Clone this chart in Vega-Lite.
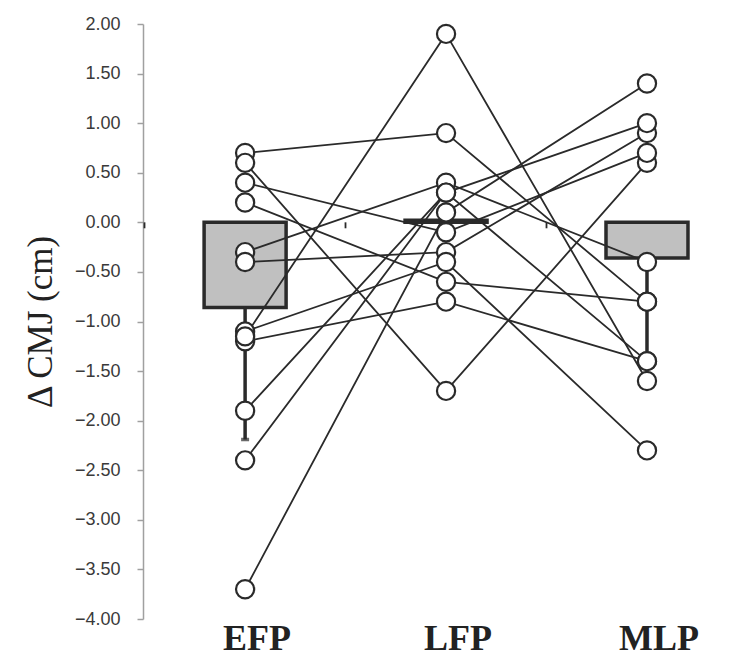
{
  "$schema": "https://vega.github.io/schema/vega-lite/v6.json",
  "width": 596,
  "height": 595,
  "autosize": {"type": "none"},
  "padding": {"left": 143, "top": 24, "right": 0, "bottom": 41},
  "background": "white",
  "config": {
    "view": {"stroke": null},
    "axisY": {
      "grid": false,
      "values": [-4, -3.5, -3, -2.5, -2, -1.5, -1, -0.5, 0, 0.5, 1, 1.5, 2],
      "format": ".2f",
      "labelFont": "Liberation Sans",
      "labelFontSize": 18,
      "labelColor": "#3a3a3a",
      "labelPadding": 17,
      "tickSize": 6,
      "tickColor": "#a0a0a0",
      "tickWidth": 1.5,
      "domainColor": "#a0a0a0",
      "domainWidth": 1.5,
      "titleFont": "Liberation Serif",
      "titleFontSize": 35,
      "titleFontWeight": "normal",
      "titleColor": "#222222",
      "titlePadding": 16
    }
  },
  "datasets": {
    "subjects": [
      {"subject": 1, "cond": "EFP", "value": 0.7}, {"subject": 1, "cond": "LFP", "value": 0.9}, {"subject": 1, "cond": "MLP", "value": -0.8},
      {"subject": 2, "cond": "EFP", "value": 0.6}, {"subject": 2, "cond": "LFP", "value": -1.7}, {"subject": 2, "cond": "MLP", "value": 0.6},
      {"subject": 3, "cond": "EFP", "value": 0.4}, {"subject": 3, "cond": "LFP", "value": -0.1}, {"subject": 3, "cond": "MLP", "value": 0.7},
      {"subject": 4, "cond": "EFP", "value": 0.2}, {"subject": 4, "cond": "LFP", "value": -0.6}, {"subject": 4, "cond": "MLP", "value": -0.8},
      {"subject": 5, "cond": "EFP", "value": -0.3}, {"subject": 5, "cond": "LFP", "value": 0.4}, {"subject": 5, "cond": "MLP", "value": -0.4},
      {"subject": 6, "cond": "EFP", "value": -0.4}, {"subject": 6, "cond": "LFP", "value": -0.3}, {"subject": 6, "cond": "MLP", "value": 0.9},
      {"subject": 7, "cond": "EFP", "value": -1.1}, {"subject": 7, "cond": "LFP", "value": -0.4}, {"subject": 7, "cond": "MLP", "value": -2.3},
      {"subject": 8, "cond": "EFP", "value": -1.2}, {"subject": 8, "cond": "LFP", "value": -0.8}, {"subject": 8, "cond": "MLP", "value": -1.4},
      {"subject": 9, "cond": "EFP", "value": -1.15}, {"subject": 9, "cond": "LFP", "value": 1.9}, {"subject": 9, "cond": "MLP", "value": -1.6},
      {"subject": 10, "cond": "EFP", "value": -1.9}, {"subject": 10, "cond": "LFP", "value": 0.3}, {"subject": 10, "cond": "MLP", "value": 1.0},
      {"subject": 11, "cond": "EFP", "value": -2.4}, {"subject": 11, "cond": "LFP", "value": 0.3}, {"subject": 11, "cond": "MLP", "value": -1.4},
      {"subject": 12, "cond": "EFP", "value": -3.7}, {"subject": 12, "cond": "LFP", "value": 0.1}, {"subject": 12, "cond": "MLP", "value": 1.4}
    ],
    "means": [
      {"cond": "EFP", "mean": -0.86, "low": -2.19},
      {"cond": "LFP", "mean": 0.02, "low": 0.02},
      {"cond": "MLP", "mean": -0.36, "low": -1.3}
    ],
    "bounds": [
      {"b": -0.5}, {"b": 0.5}, {"b": 1.5}, {"b": 2.5}
    ]
  },
  "resolve": {"scale": {"x": "independent"}},
  "layer": [
    {
      "encoding": {
        "x": {"field": "cond", "type": "nominal",
          "scale": {"domain": ["EFP", "LFP", "MLP"], "paddingInner": 0.592, "paddingOuter": 0.279, "align": 0.545},
          "axis": {
            "title": null, "ticks": false, "domain": false,
            "labelFont": "Liberation Serif", "labelFontSize": 36, "labelFontWeight": "bold",
            "labelColor": "#222222", "labelPadding": 2, "labelAngle": 0, "labelOffset": 12
          }
        }
      },
      "layer": [
        {
          "data": {"name": "means"},
          "mark": {"type": "bar", "fill": "#c0c0c0", "stroke": "#2a2a2a", "strokeWidth": 3.5},
          "encoding": {
            "y": {"field": "mean", "type": "quantitative", "scale": {"domain": [-4, 2], "nice": false, "zero": false}, "title": "Δ CMJ (cm)"},
            "y2": {"datum": 0}
          }
        },
        {
          "data": {"name": "means"},
          "mark": {"type": "rule", "stroke": "#2a2a2a", "strokeWidth": 3.5},
          "encoding": {
            "y": {"field": "mean", "type": "quantitative"},
            "y2": {"field": "low"}
          }
        },
        {
          "data": {"name": "means"},
          "transform": [{"filter": "datum.cond === 'EFP'"}],
          "mark": {"type": "tick", "color": "#2a2a2a", "size": 8, "thickness": 3.5, "orient": "horizontal"},
          "encoding": {
            "y": {"field": "low", "type": "quantitative"}
          }
        },
        {
          "data": {"name": "subjects"},
          "mark": {"type": "line", "stroke": "#2a2a2a", "strokeWidth": 1.8},
          "encoding": {
            "y": {"field": "value", "type": "quantitative"},
            "detail": {"field": "subject", "type": "nominal"}
          }
        },
        {
          "data": {"name": "subjects"},
          "mark": {"type": "point", "shape": "circle", "filled": true, "fill": "white", "stroke": "#2a2a2a", "strokeWidth": 2.2, "size": 330, "opacity": 1},
          "encoding": {
            "y": {"field": "value", "type": "quantitative"}
          }
        }
      ]
    },
    {
      "data": {"name": "bounds"},
      "layer": [
        {
          "mark": {"type": "rule", "stroke": "#2a2a2a", "strokeWidth": 1.8},
          "encoding": {
            "y": {"datum": 0, "type": "quantitative"},
            "y2": {"datum": -0.06}
          }
        },
        {
          "mark": {"type": "rule", "stroke": "#2a2a2a", "strokeWidth": 1.8},
          "encoding": {"y": {"datum": 0, "type": "quantitative"}}
        }
      ],
      "encoding": {
        "x": {"field": "b", "type": "quantitative", "scale": {"domain": [-0.5075, 2.4577], "nice": false, "zero": false}, "axis": null}
      }
    }
  ]
}
